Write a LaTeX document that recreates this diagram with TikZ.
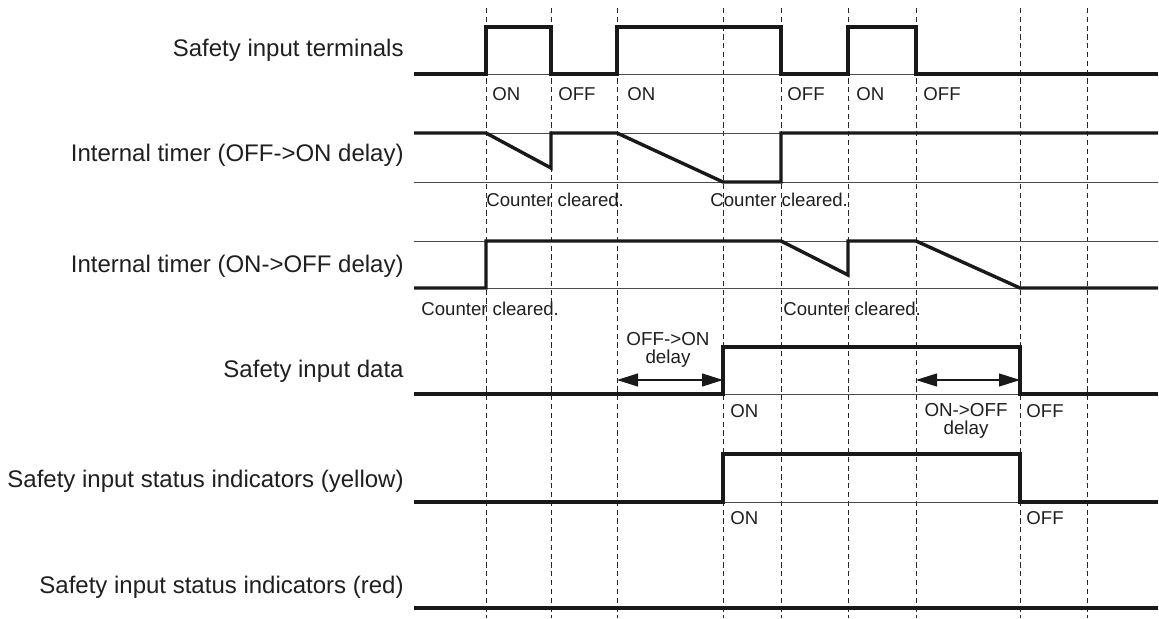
\documentclass[tikz,border=0pt]{standalone}
\usepackage{fontspec}
\setmainfont{Liberation Sans}
\usetikzlibrary{arrows.meta}
\tikzset{
  siglabel/.style={anchor=base east, inner sep=0pt, text=black!88, font=\fontsize{12}{14}\selectfont},
  stateword/.style={anchor=base west, inner sep=0pt, text=black!88, font=\fontsize{9.3}{10}\selectfont},
  delaytext/.style={align=center, inner sep=0pt, text=black!88, font=\fontsize{9.4}{8.8}\selectfont},
  sigwave/.style={line width=1.7pt, draw=black!90, line join=miter},
  sigbase/.style={line width=0.45pt, draw=black!70},
  timeline/.style={line width=0.5pt, draw=black!85, dash pattern=on 2.6pt off 1.8pt},
  delayarrow/.style={{Triangle[length=10.5pt,width=6.5pt]}-{Triangle[length=10.5pt,width=6.5pt]}, line width=0.55pt, draw=black!90, fill=black!90}
}

\begin{document}
\begin{tikzpicture}[x=0.5pt,y=-0.5pt]
\useasboundingbox (0,0) rectangle (1159,619);

% time marks
\foreach \x in {486,551,617,723,781,848,916,1020,1087}
  \draw[timeline] (\x,8) -- (\x,618);

% signal names
\node[siglabel] (terminals) at (404,57) {Safety input terminals};
\node[siglabel] (timeron) at (404,162) {Internal timer (OFF->ON delay)};
\node[siglabel] (timeroff) at (404,273) {Internal timer (ON->OFF delay)};
\node[siglabel] (data) at (404,378) {Safety input data};
\node[siglabel] (yellow) at (404,487) {Safety input status indicators (yellow)};
\node[siglabel] (red) at (404,593) {Safety input status indicators (red)};

% safety input terminals
\draw[sigbase] (414,74) -- (1158,74);
\draw[sigwave] (414,74) -- (486,74) -- (486,27) -- (551,27) -- (551,74) -- (617,74) -- (617,27)
  -- (781,27) -- (781,74) -- (848,74) -- (848,27) -- (916,27) -- (916,74) -- (1158,74);
\foreach \x/\t [count=\i] in {492/ON,558/OFF,627/ON,787/OFF,856/ON,923/OFF}
  \node[stateword] (term\i) at (\x,101) {\t};

% internal timer OFF->ON
\draw[sigbase] (414,133) -- (1158,133) (414,182) -- (1158,182);
\draw[sigwave] (414,133) -- (486,133) -- (551,168) -- (551,133) -- (617,133) -- (723,182)
  -- (781,182) -- (781,133) -- (1158,133);
\node[stateword] (clearon1) at (486,207) {Counter cleared.};
\node[stateword] (clearon2) at (710,207) {Counter cleared.};

% internal timer ON->OFF
\draw[sigbase] (414,241) -- (1158,241) (414,288) -- (1158,288);
\draw[sigwave] (414,288) -- (486,288) -- (486,241) -- (781,241) -- (848,275) -- (848,241)
  -- (916,241) -- (1020,288) -- (1158,288);
\node[stateword] (clearoff1) at (421,316) {Counter cleared.};
\node[stateword] (clearoff2) at (783,316) {Counter cleared.};

% safety input data
\draw[sigbase] (414,394) -- (1158,394);
\draw[sigwave] (414,394) -- (723,394) -- (723,347) -- (1020,347) -- (1020,394) -- (1158,394);
\node[stateword] (dataon) at (730,417) {ON};
\node[stateword] (dataoff) at (1026,417) {OFF};
\coordinate (onstart) at (617,380);
\coordinate (onend) at (723,380);
\draw[delayarrow] (onstart) -- (onend);
\node[delaytext] (ondelay) at (668,350) {OFF->ON\\delay};
\coordinate (offstart) at (916,380);
\coordinate (offend) at (1020,380);
\draw[delayarrow] (offstart) -- (offend);
\node[delaytext] (offdelay) at (966,421) {ON->OFF\\delay};

% indicators
\draw[sigbase] (414,502) -- (1158,502);
\draw[sigwave] (414,502) -- (723,502) -- (723,454) -- (1020,454) -- (1020,502) -- (1158,502);
\node[stateword] (yellowon) at (730,524) {ON};
\node[stateword] (yellowoff) at (1026,524) {OFF};
\draw[sigwave] (414,608) -- (1158,608);
\end{tikzpicture}
\end{document}
